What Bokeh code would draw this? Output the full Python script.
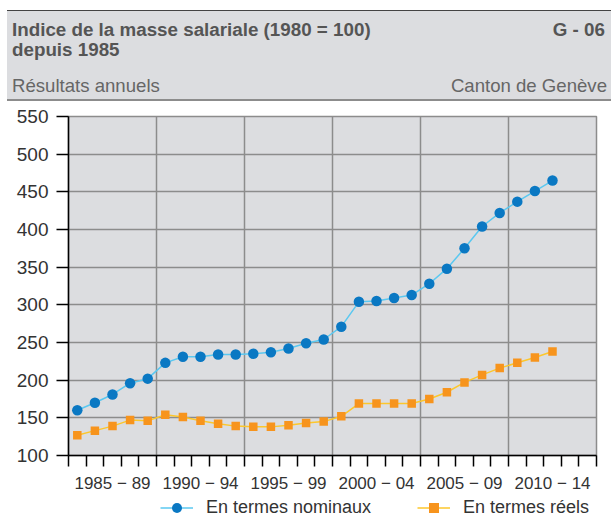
from bokeh.plotting import figure
from bokeh.layouts import column
from bokeh.models import FixedTicker, Legend, LegendItem, Range1d, Div
from bokeh.embed import file_html
from bokeh.resources import INLINE

# ---- data ----
years = list(range(1985, 2013))
nominal = [160, 170, 181, 196, 202, 223, 231, 231, 234, 234,
           235, 237, 242, 249, 254, 271, 304, 305, 309, 313,
           328, 348, 375, 404, 422, 437, 451, 465]
reel = [127, 133, 139, 147, 146, 154, 151, 146, 142, 139,
        138, 138, 140, 143, 145, 152, 169, 169, 169, 169,
        175, 184, 197, 207, 216, 223, 230, 238]
period_starts = [1985, 1990, 1995, 2000, 2005, 2010]
period_labels = ["1985 − 89", "1990 − 94", "1995 − 99", "2000 − 04", "2005 − 09", "2010 − 14"]
y_ticks = [100, 150, 200, 250, 300, 350, 400, 450, 500, 550]

title_1 = "Indice de la masse salariale (1980 = 100)"
title_2 = "depuis 1985"
code = "G - 06"
subtitle = "Résultats annuels"
region = "Canton de Genève"
series_names = ["En termes nominaux", "En termes réels"]

FONT = "Liberation Sans"
BG = "#dcdde0"
GRID = "#8c8c8c"
TXT = "#333333"
HTXT = "#555555"
NOM_LINE, NOM_MARK = "#5bc8f0", "#0a78c3"
REE_LINE, REE_MARK = "#fcc72c", "#f7941d"
CIRCLE_SIZE, SQUARE_SIZE = 10.5, 8.5

W = 611
BL, BR = 68, 15
HEAD_H = 104

# ---- header (HTML block) ----
def span(left=None, right=None, center=0, txt="", bold=False, size="18.6px", color=HTXT):
    pos = f"left:{left}px;" if left is not None else f"right:{right}px;"
    return (f'<span style="position:absolute;{pos}top:{center - 11}px;line-height:22px;'
            f'white-space:nowrap;font-size:{size};font-weight:{"bold" if bold else "normal"};'
            f'color:{color};">{txt}</span>')

header_html = (
    f'<div style="position:relative;width:{W}px;height:{HEAD_H}px;font-family:\'{FONT}\';">'
    f'<div style="position:absolute;left:7px;top:10px;width:{W - 7}px;height:91px;background:{BG};'
    f'border-top:1px solid #444444;border-bottom:2.5px solid {GRID};"></div>'
    + span(left=12, center=30, txt=title_1, bold=True, size="18.8px")
    + span(left=12, center=50, txt=title_2, bold=True, size="18.8px")
    + span(right=6, center=30, txt=code, bold=True, size="18.8px")
    + span(left=12, center=86, txt=subtitle, color="#666666")
    + span(right=4, center=86, txt=region, color="#666666")
    + '</div>'
)
header = Div(text=header_html, width=W, height=HEAD_H, margin=0)

# ---- chart ----
p = figure(width=W, height=391,
           x_range=Range1d(period_starts[0] - 0.5, period_starts[-1] + 4.5),
           y_range=Range1d(y_ticks[0], y_ticks[-1]),
           output_backend="svg", toolbar_location=None,
           min_border_left=BL, min_border_right=BR, min_border_top=12, min_border_bottom=38,
           background_fill_color=BG, border_fill_color="white",
           outline_line_color=GRID, outline_line_width=1.5)

p.line(years, nominal, line_color=NOM_LINE, line_width=1.5)
p.scatter(years, nominal, marker="circle", size=CIRCLE_SIZE, fill_color=NOM_MARK, line_color=None)
p.line(years, reel, line_color=REE_LINE, line_width=1.5)
p.scatter(years, reel, marker="square", size=SQUARE_SIZE, fill_color=REE_MARK, line_color=None)

xa = p.xaxis[0]
xa.ticker = FixedTicker(ticks=[s + 2 for s in period_starts],
                        minor_ticks=[y - 0.5 for y in range(period_starts[0], period_starts[-1] + 6)])
xa.major_label_overrides = {s + 2: lbl for s, lbl in zip(period_starts, period_labels)}
xa.major_tick_out = 0
xa.major_tick_in = 0
xa.minor_tick_out = 11
xa.minor_tick_in = 0
xa.minor_tick_line_color = "black"
xa.minor_tick_line_width = 1.5
xa.axis_line_color = "black"
xa.axis_line_width = 1.5
xa.major_label_standoff = 7
xa.major_label_text_font = FONT
xa.major_label_text_font_size = "17px"
xa.major_label_text_color = TXT

ya = p.yaxis[0]
ya.ticker = FixedTicker(ticks=y_ticks)
ya.major_tick_out = 12
ya.major_tick_in = 0
ya.major_tick_line_color = "black"
ya.major_tick_line_width = 1.5
ya.minor_tick_out = 0
ya.minor_tick_in = 0
ya.axis_line_color = "black"
ya.axis_line_width = 1.5
ya.major_label_standoff = 8
ya.major_label_text_font = FONT
ya.major_label_text_font_size = "19px"
ya.major_label_text_color = TXT

p.xgrid.ticker = FixedTicker(ticks=[s - 0.5 for s in period_starts[1:]])
p.xgrid.grid_line_color = GRID
p.xgrid.grid_line_width = 1.5
p.ygrid.grid_line_color = GRID
p.ygrid.grid_line_width = 1.5

# ---- legend strip: same series with the same styles (drawn outside its view), legend only ----
lf = figure(width=W, height=24, x_range=Range1d(0, 1), y_range=Range1d(0, 1),
            output_backend="svg", toolbar_location=None,
            min_border_left=BL, min_border_right=BR, min_border_top=0, min_border_bottom=0,
            x_axis_type=None, y_axis_type=None, outline_line_color=None,
            background_fill_color="white", border_fill_color="white")
lf.grid.visible = False
k1 = lf.line(years, nominal, line_color=NOM_LINE, line_width=1.5)
m1 = lf.scatter(years, nominal, marker="circle", size=CIRCLE_SIZE, fill_color=NOM_MARK, line_color=None)
k2 = lf.line(years, reel, line_color=REE_LINE, line_width=1.5)
m2 = lf.scatter(years, reel, marker="square", size=SQUARE_SIZE, fill_color=REE_MARK, line_color=None)
legend = Legend(items=[LegendItem(label=series_names[0], renderers=[k1, m1]),
                       LegendItem(label=series_names[1], renderers=[k2, m2])],
                orientation="horizontal", location=(92, -1), padding=0, margin=0,
                spacing=46, glyph_width=33, glyph_height=25, label_height=17, label_standoff=13,
                label_text_font=FONT, label_text_font_size="18px", label_text_color=TXT,
                border_line_color=None, background_fill_alpha=0)
lf.add_layout(legend, "center")

layout = column(header, p, lf, spacing=0)
open("out.html", "w").write(file_html(layout, INLINE))
